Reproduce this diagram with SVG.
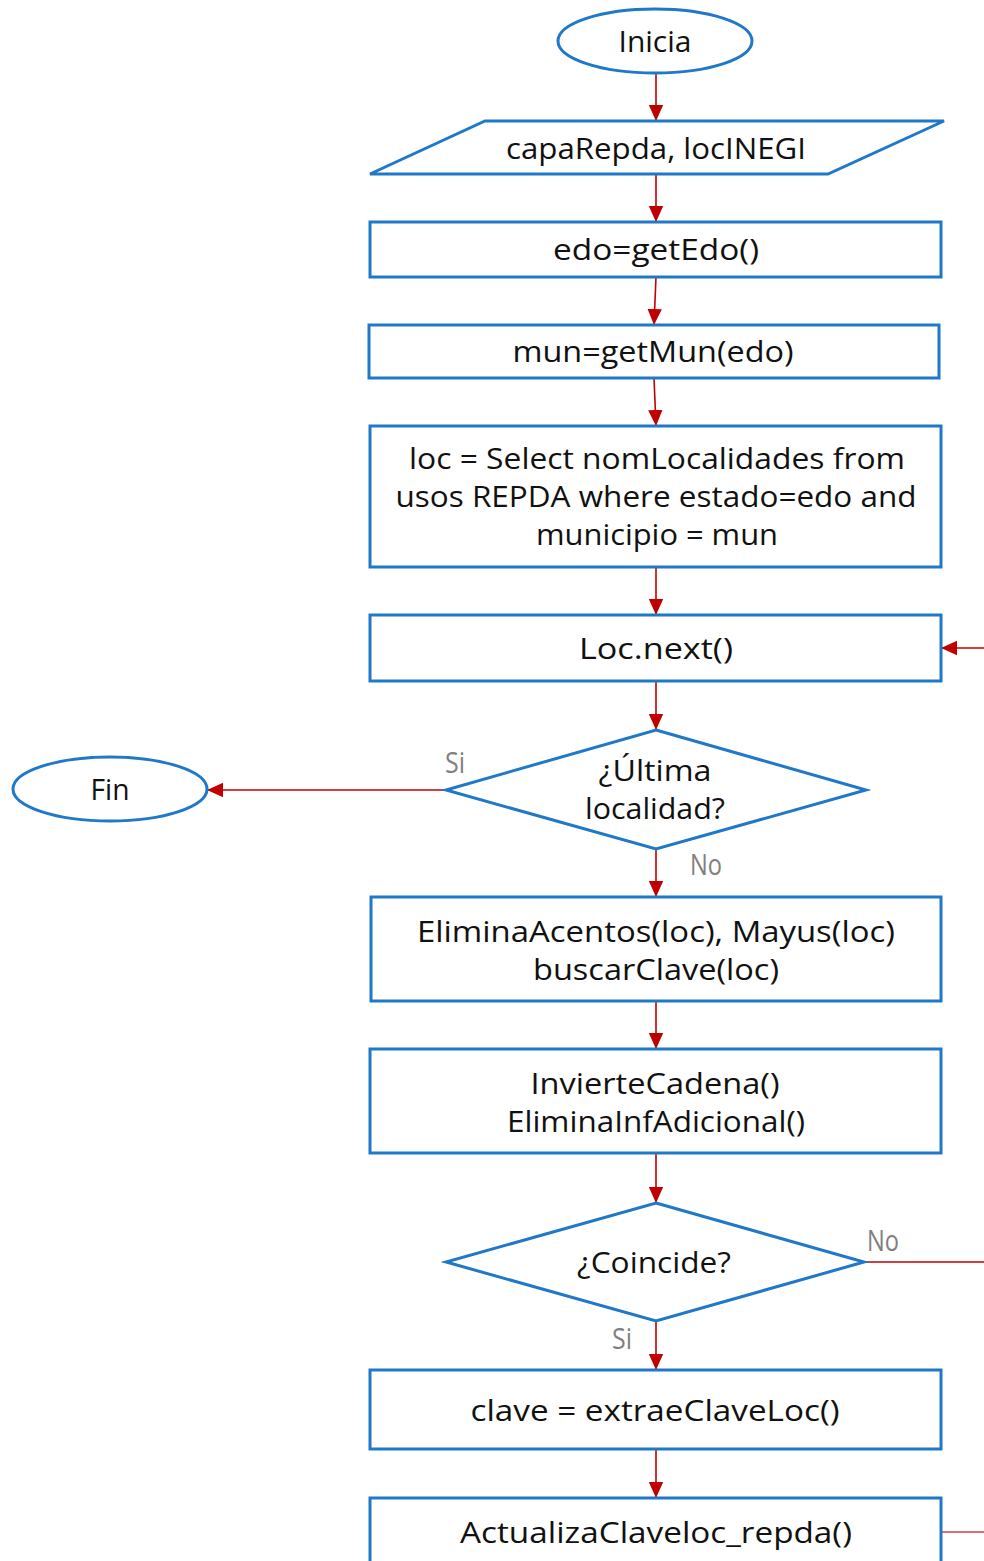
<svg xmlns="http://www.w3.org/2000/svg" width="984" height="1561" viewBox="0 0 984 1561">
  <style>
    .shape { fill: #ffffff; stroke: #1f78c8; stroke-width: 3; }
    .t { font-family: "Open Sans", "Noto Sans", sans-serif; font-size: 30px; fill: #111111; text-anchor: middle; }
    .lbl { font-family: "Open Sans", "Noto Sans", sans-serif; font-size: 30px; fill: #808080; text-anchor: middle; }
    .edge { fill: none; stroke: #c00000; stroke-width: 1.6; }
    .edge-soft { fill: none; stroke: #e07070; stroke-width: 2; }
  </style>
  <defs>
    <marker id="arrow" viewBox="0 0 10 10" refX="10" refY="5" markerWidth="16" markerHeight="16" markerUnits="userSpaceOnUse" orient="auto">
      <path d="M0,0.5 L10,5 L0,9.5 Z" fill="#c00000"/>
    </marker>
  </defs>
  <rect width="984" height="1561" fill="#ffffff"/>

  <!-- connectors -->
  <g id="connectors">
    <path class="edge" d="M656,73 L656,121" marker-end="url(#arrow)"/>
    <path class="edge" d="M656,174 L656,222" marker-end="url(#arrow)"/>
    <path class="edge" d="M656,277 L654,325" marker-end="url(#arrow)"/>
    <path class="edge" d="M654,378 L656,426" marker-end="url(#arrow)"/>
    <path class="edge" d="M656,567 L656,615" marker-end="url(#arrow)"/>
    <path class="edge" d="M656,681 L656,730" marker-end="url(#arrow)"/>
    <path class="edge" d="M446,790 L207,790" marker-end="url(#arrow)"/>
    <path class="edge" d="M656,849 L656,897" marker-end="url(#arrow)"/>
    <path class="edge" d="M656,1001 L656,1049" marker-end="url(#arrow)"/>
    <path class="edge" d="M656,1153 L656,1203" marker-end="url(#arrow)"/>
    <path class="edge" d="M864,1262 L984,1262"/>
    <path class="edge" d="M656,1321 L656,1370" marker-end="url(#arrow)"/>
    <path class="edge" d="M656,1449 L656,1498" marker-end="url(#arrow)"/>
    <path class="edge-soft" d="M941,1532 L984,1532"/>
    <path class="edge" d="M984,648 L941,648" marker-end="url(#arrow)"/>
    <text class="lbl" x="455" y="773" textLength="20" lengthAdjust="spacingAndGlyphs">Si</text>
    <text class="lbl" x="706" y="875" textLength="32" lengthAdjust="spacingAndGlyphs">No</text>
    <text class="lbl" x="883" y="1251" textLength="32" lengthAdjust="spacingAndGlyphs">No</text>
    <text class="lbl" x="622" y="1349" textLength="20" lengthAdjust="spacingAndGlyphs">Si</text>
  </g>

  <g id="inicia">
    <ellipse class="shape" cx="655" cy="41" rx="97" ry="32"/>
    <text class="t" x="655" y="52" textLength="73" lengthAdjust="spacingAndGlyphs">Inicia</text>
  </g>

  <g id="entrada">
    <polygon class="shape" points="370,174 485,121 944,121 828,174"/>
    <text class="t" x="656" y="159" textLength="300" lengthAdjust="spacingAndGlyphs">capaRepda, locINEGI</text>
  </g>

  <g id="edo">
    <rect class="shape" x="370" y="222" width="571" height="55"/>
    <text class="t" x="656" y="260" textLength="206" lengthAdjust="spacingAndGlyphs">edo=getEdo()</text>
  </g>

  <g id="mun">
    <rect class="shape" x="369" y="325" width="570" height="53"/>
    <text class="t" x="653" y="362" textLength="281" lengthAdjust="spacingAndGlyphs">mun=getMun(edo)</text>
  </g>

  <g id="consulta">
    <rect class="shape" x="370" y="426" width="571" height="141"/>
    <text class="t" x="657" y="469" textLength="496" lengthAdjust="spacingAndGlyphs">loc = Select nomLocalidades from</text>
    <text class="t" x="656" y="507" textLength="521" lengthAdjust="spacingAndGlyphs">usos REPDA where estado=edo and</text>
    <text class="t" x="657" y="545" textLength="242" lengthAdjust="spacingAndGlyphs">municipio = mun</text>
  </g>

  <g id="next">
    <rect class="shape" x="370" y="615" width="571" height="66"/>
    <text class="t" x="656" y="659" textLength="154" lengthAdjust="spacingAndGlyphs">Loc.next()</text>
  </g>

  <g id="ultima">
    <polygon class="shape" points="656,730 866,790 656,849 446,790"/>
    <text class="t" x="655" y="781" textLength="113" lengthAdjust="spacingAndGlyphs">¿Última</text>
    <text class="t" x="655" y="819" textLength="140" lengthAdjust="spacingAndGlyphs">localidad?</text>
  </g>

  <g id="fin">
    <ellipse class="shape" cx="110" cy="789" rx="97" ry="32"/>
    <text class="t" x="110" y="800" textLength="39" lengthAdjust="spacingAndGlyphs">Fin</text>
  </g>

  <g id="elimina">
    <rect class="shape" x="371" y="897" width="570" height="104"/>
    <text class="t" x="656" y="942" textLength="478" lengthAdjust="spacingAndGlyphs">EliminaAcentos(loc), Mayus(loc)</text>
    <text class="t" x="656" y="980" textLength="246" lengthAdjust="spacingAndGlyphs">buscarClave(loc)</text>
  </g>

  <g id="invierte">
    <rect class="shape" x="370" y="1049" width="571" height="104"/>
    <text class="t" x="655" y="1094" textLength="249" lengthAdjust="spacingAndGlyphs">InvierteCadena()</text>
    <text class="t" x="656" y="1132" textLength="298" lengthAdjust="spacingAndGlyphs">EliminaInfAdicional()</text>
  </g>

  <g id="coincide">
    <polygon class="shape" points="656,1203 864,1262 656,1321 446,1262"/>
    <text class="t" x="654" y="1273" textLength="154" lengthAdjust="spacingAndGlyphs">¿Coincide?</text>
  </g>

  <g id="clave">
    <rect class="shape" x="370" y="1370" width="571" height="79"/>
    <text class="t" x="655" y="1421" textLength="369" lengthAdjust="spacingAndGlyphs">clave = extraeClaveLoc()</text>
  </g>

  <g id="actualiza">
    <rect class="shape" x="370" y="1498" width="571" height="80"/>
    <text class="t" x="656" y="1543" textLength="392" lengthAdjust="spacingAndGlyphs">ActualizaClaveloc_repda()</text>
  </g>
</svg>
